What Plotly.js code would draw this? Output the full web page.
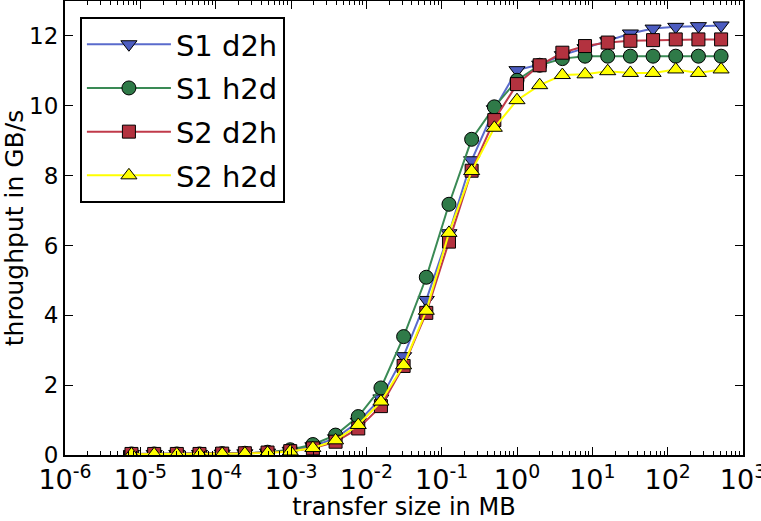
<!DOCTYPE html>
<html>
<head>
<meta charset="utf-8">
<script src="https://cdn.plot.ly/plotly-3.0.1.min.js"></script>
<style>html,body{margin:0;padding:0;background:#fff;}#chart{width:761px;height:521px;}</style>
</head>
<body>
<div id="chart"></div>
<script>
// transfer sizes in MB: 2^-17 ... 2^9
const exponents = [-17,-16,-15,-14,-13,-12,-11,-10,-9,-8,-7,-6,-5,-4,-3,-2,-1,0,1,2,3,4,5,6,7,8,9];
const sizesMB = exponents.map(k => Math.pow(2, k));

const s1d2h = [0.03,0.03,0.03,0.03,0.04,0.05,0.07,0.12,0.25,0.48,0.95,1.62,2.83,4.44,6.35,8.44,9.90,11.02,11.18,11.45,11.65,11.85,12.07,12.21,12.26,12.28,12.30];
const s1h2d = [0.03,0.03,0.03,0.03,0.04,0.05,0.08,0.15,0.30,0.57,1.10,1.92,3.39,5.09,7.18,9.04,9.97,10.73,11.16,11.35,11.42,11.42,11.42,11.42,11.42,11.42,11.42];
const s2d2h = [0.03,0.03,0.03,0.03,0.04,0.05,0.07,0.11,0.19,0.38,0.76,1.40,2.55,4.07,6.11,8.14,9.59,10.62,11.16,11.52,11.71,11.81,11.86,11.88,11.90,11.90,11.90];
const s2h2d = [0.02,0.02,0.02,0.02,0.03,0.04,0.06,0.10,0.20,0.42,0.86,1.53,2.57,4.13,6.36,8.13,9.37,10.16,10.59,10.88,10.90,10.99,10.94,10.94,11.04,10.94,11.04];

// x tick labels
const xTickVals = [1e-6,1e-5,1e-4,1e-3,1e-2,1e-1,1e0,1e1,1e2,1e3];
const xTickText = ['10<sup>-6</sup>','10<sup>-5</sup>','10<sup>-4</sup>','10<sup>-3</sup>','10<sup>-2</sup>','10<sup>-1</sup>','10<sup>0</sup>','10<sup>1</sup>','10<sup>2</sup>','10<sup>3</sup>'];

const seriesNames = ['S1 d2h','S1 h2d','S2 d2h','S2 h2d'];
const seriesData = [s1d2h, s1h2d, s2d2h, s2h2d];
const lineColors = ['#5a6bcc','#3a8a55','#c03a4a','#ffff00'];
const markerColors = ['#4c5cc0','#2f7a48','#b3323f','#ffff00'];
const symbols = ['triangle-down','circle','square','triangle-up'];
const sizes = [14,14,13,14];

const traces = seriesData.map((ys, i) => ({
  x: sizesMB, y: ys, name: seriesNames[i], type: 'scatter', mode: 'lines+markers',
  legendgroup: 'g' + i,
  line: {color: lineColors[i], width: 2},
  marker: {symbol: symbols[i], size: sizes[i], color: markerColors[i], line: {color: '#000', width: 1}}
}));

const layout = {
  width: 761, height: 521,
  margin: {l: 65, r: 18, t: 1, b: 66},
  paper_bgcolor: '#fff', plot_bgcolor: '#fff',
  font: {family: 'DejaVu Sans', color: '#000'},
  showlegend: true,
  legend: {
    x: 0.022, y: 0.965, xanchor: 'left', yanchor: 'top',
    bgcolor: '#fff', bordercolor: '#000', borderwidth: 2,
    font: {size: 29, family: 'DejaVu Sans'},
    tracegroupgap: 3, itemwidth: 84
  },
  xaxis: {
    type: 'log', range: [-6, 3],
    tickmode: 'array', tickvals: xTickVals, ticktext: xTickText,
    ticks: 'inside', ticklen: 8, tickwidth: 1, tickcolor: '#000',
    ticklabelstandoff: 0, ticklabeloverflow: 'allow',
    showline: true, linecolor: '#000', linewidth: 2, mirror: 'allticks',
    showgrid: false, zeroline: false,
    tickfont: {size: 27, family: 'DejaVu Sans'},
    minor: {ticks: 'inside', ticklen: 4, tickcolor: '#000', dtick: 'D1', showgrid: false},
    title: {text: 'transfer size in MB', font: {size: 24, family: 'DejaVu Sans'}, standoff: 12}
  },
  yaxis: {
    range: [0, 13], dtick: 2, tick0: 0,
    ticks: 'inside', ticklen: 8, tickwidth: 1, tickcolor: '#000',
    showline: true, linecolor: '#000', linewidth: 2, mirror: 'allticks',
    showgrid: false, zeroline: false,
    tickfont: {size: 23, family: 'DejaVu Sans'},
    title: {text: 'throughput in GB/s', font: {size: 25, family: 'DejaVu Sans'}, standoff: 4}
  }
};

Plotly.newPlot('chart', traces, layout, {displayModeBar: false, staticPlot: true});
</script>
</body>
</html>
